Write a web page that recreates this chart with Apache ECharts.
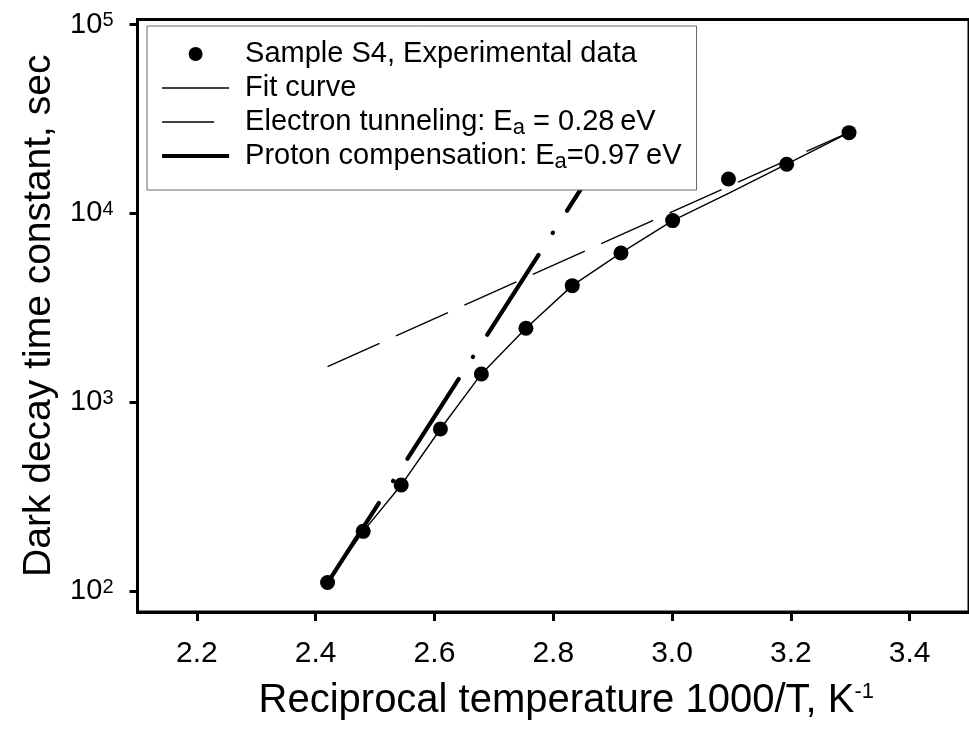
<!DOCTYPE html>
<html><head><meta charset="utf-8">
<script src="https://cdn.jsdelivr.net/npm/echarts@6/dist/echarts.min.js"></script>
<style>html,body{margin:0;padding:0;background:#fff}#c{width:969px;height:729px}</style>
</head><body><div id="c"></div>
<script>
const FONT = 'Liberation Sans, Arial, sans-serif';

// Experimental data (1000/T, K^-1  vs  decay time constant, s)
const tempX  = [2.420, 2.480, 2.544, 2.610, 2.679, 2.754, 2.832, 2.914, 3.001, 3.095, 3.193, 3.298];
const decayY = [111, 207, 364, 721, 1411, 2462, 4141, 6169, 9150, 15210, 18200, 26750];

// Fit curve
const fitX = [2.420, 2.480, 2.544, 2.610, 2.679, 2.754, 2.832, 2.914, 3.001, 3.095, 3.193, 3.298];
const fitY = [111, 207, 364, 721, 1411, 2462, 4141, 6169, 9150, 12770, 18200, 26750];

// Electron tunneling line (Ea = 0.28 eV)
const electronX = [2.420, 3.298];
const electronY = [1542, 26850];

// Proton compensation line (Ea = 0.97 eV)
const protonX = [2.420, 2.860];
const protonY = [110.4, 15630];

// Tick values / labels
const xTickValues = [2.2, 2.4, 2.6, 2.8, 3.0, 3.2, 3.4];
const xTickLabels = ['2.2', '2.4', '2.6', '2.8', '3.0', '3.2', '3.4'];
const yTickValues = [100, 1000, 10000, 100000];
const yTickLabels = ['10{sup|2}', '10{sup|3}', '10{sup|4}', '10{sup|5}'];

const seriesNames = ['Sample S4, Experimental data', 'Fit curve', 'Electron tunneling: Ea = 0.28 eV', 'Proton compensation: Ea=0.97 eV'];
const legendLabels = ['Sample S4, Experimental data', 'Fit curve', 'Electron tunneling: E{sub|a} = 0.28\u2009eV', 'Proton compensation: E{sub|a}=0.97\u2009eV'];

const pairs = (xs, ys) => xs.map((x, i) => [x, ys[i]]);
const nearestIdx = (arr, v, log) => {
  let best = 0, bd = Infinity;
  arr.forEach((a, i) => { const d = log ? Math.abs(Math.log10(a) - Math.log10(v)) : Math.abs(a - v); if (d < bd) { bd = d; best = i; } });
  return best;
};

const chart = echarts.init(document.getElementById('c'), null, {renderer: 'canvas'});
chart.setOption({
  animation: false,
  backgroundColor: '#fff',
  textStyle: {fontFamily: FONT},
  grid: {left: 137.5, top: 19.5, width: 837.2, height: 592.5, show: true, borderColor: '#000', borderWidth: 3, backgroundColor: 'transparent'},
  xAxis: {
    type: 'value', min: 2.1, max: 3.5,
    axisLine: {show: true, onZero: false, lineStyle: {color: '#000', width: 3}},
    axisTick: {show: true, inside: false, length: 9, lineStyle: {color: '#000', width: 3}, customValues: xTickValues},
    axisLabel: {show: true, customValues: xTickValues, formatter: v => xTickLabels[nearestIdx(xTickValues, v, false)], margin: 27, color: '#000', fontFamily: FONT, fontSize: 30},
    splitLine: {show: false},
    name: 'Reciprocal temperature 1000/T, K{sup|-1}', nameLocation: 'middle', nameGap: 69,
    nameTextStyle: {color: '#000', fontFamily: FONT, fontSize: 40, lineHeight: 40, padding: [0, 0, 0, 26],
      rich: {sup: {fontFamily: FONT, fontSize: 22, lineHeight: 10, verticalAlign: 'top', color: '#000'}}}
  },
  yAxis: {
    type: 'log', logBase: 10, min: 77.4, max: 106300,
    axisLine: {show: true, onZero: false, lineStyle: {color: '#000', width: 3}},
    axisTick: {show: true, inside: false, length: 8, lineStyle: {color: '#000', width: 3}, customValues: yTickValues},
    axisLabel: {show: true, customValues: yTickValues, formatter: v => yTickLabels[nearestIdx(yTickValues, v, true)], margin: 24, color: '#000', fontFamily: FONT, fontSize: 29, lineHeight: 28,
      rich: {sup: {fontFamily: FONT, fontSize: 20, lineHeight: 18, verticalAlign: 'top', color: '#000'}}},
    splitLine: {show: false}, minorTick: {show: false},
    name: 'Dark decay time constant, sec', nameLocation: 'middle', nameRotate: 90, nameGap: 76,
    nameTextStyle: {color: '#000', fontFamily: FONT, fontSize: 39}
  },
  legend: {
    show: true, orient: 'vertical', left: 147, top: 26, padding: [11, 15, 17, 13], itemGap: 0,
    itemWidth: 67, itemHeight: 14, backgroundColor: '#fff', borderColor: '#666', borderWidth: 1, borderRadius: 0,
    selectedMode: false,
    textStyle: {fontFamily: FONT, fontSize: 29, color: '#000', lineHeight: 34, padding: [0, 0, 0, 11],
      rich: {sub: {fontFamily: FONT, fontSize: 22, lineHeight: 18, verticalAlign: 'bottom', color: '#000'}}},
    formatter: name => legendLabels[seriesNames.indexOf(name)],
    data: [
      {name: seriesNames[0], icon: 'circle', itemStyle: {color: '#000', opacity: 1}},
      {name: seriesNames[1], itemStyle: {opacity: 0}, lineStyle: {type: 'solid', width: 1.4, color: '#000'}},
      {name: seriesNames[2], itemStyle: {opacity: 0}, lineStyle: {type: [52, 200], width: 1.4, color: '#000'}},
      {name: seriesNames[3], itemStyle: {opacity: 0}, lineStyle: {type: 'solid', width: 4.2, cap: 'butt', color: '#000'}}
    ]
  },
  series: [
    {name: seriesNames[0], type: 'scatter', data: pairs(tempX, decayY), symbol: 'circle', symbolSize: 15,
      itemStyle: {color: '#000', opacity: 1}, z: 5},
    {name: seriesNames[1], type: 'line', data: pairs(fitX, fitY), symbol: 'none', showSymbol: false,
      lineStyle: {color: '#000', width: 1.4}, itemStyle: {color: '#000'}, z: 3},
    {name: seriesNames[2], type: 'line', data: pairs(electronX, electronY), symbol: 'none', showSymbol: false,
      lineStyle: {color: '#000', width: 1.4, type: [57, 18]}, itemStyle: {color: '#000'}, z: 3},
    {name: seriesNames[3], type: 'line', data: pairs(protonX, protonY), symbol: 'none', showSymbol: false,
      lineStyle: {color: '#000', width: 4.2, type: [95, 26, 0.5, 26], cap: 'round'}, itemStyle: {color: '#000'}, z: 3}
  ]
});
</script></body></html>
